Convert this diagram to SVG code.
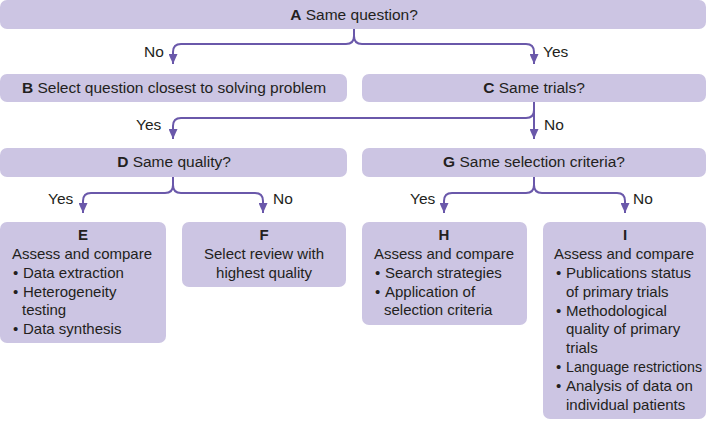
<svg xmlns="http://www.w3.org/2000/svg" width="708" height="421" viewBox="0 0 708 421">
<defs>
<marker id="arr" markerWidth="10" markerHeight="9" refX="10" refY="4.5" orient="auto" markerUnits="userSpaceOnUse">
<path d="M0,0 L10,4.5 L0,9 Z" fill="#6a58aa"/>
</marker>
<style>
.box{fill:#ccc5e3;}
text{font-family:"Liberation Sans",Arial,sans-serif;font-size:15px;fill:#231f20;}
.h{font-size:15.5px;}
.c{text-anchor:middle;}
.b{font-weight:bold;}
.lbl text{font-size:15.5px;}
.conn path{fill:none;stroke:#6a58aa;stroke-width:2;}
.conn path.a{marker-end:url(#arr);}
</style>
</defs>
<g class="conn" id="connectors">
<path d="M354,29 V36 Q354,44 346,44 H181 Q173,44 173,52 V64" class="a"/>
<path d="M354,36 Q354,44 362,44 H526 Q534,44 534,52 V64" class="a"/>
<path d="M534,102 V139" class="a"/>
<path d="M534,110 Q534,118 526,118 H181 Q173,118 173,126 V139" class="a"/>
<path d="M173,177 V185 Q173,193 165,193 H91 Q83,193 83,201 V213" class="a"/>
<path d="M173,185 Q173,193 181,193 H255 Q263,193 263,201 V213" class="a"/>
<path d="M534,177 V185 Q534,193 526,193 H452 Q444,193 444,201 V213" class="a"/>
<path d="M534,185 Q534,193 542,193 H617 Q625,193 625,201 V213" class="a"/>
</g>
<g id="labels" class="lbl">
<text x="144" y="57">No</text>
<text x="543" y="57">Yes</text>
<text x="136" y="130">Yes</text>
<text x="544" y="130">No</text>
<text x="48" y="204">Yes</text>
<text x="273" y="204">No</text>
<text x="410" y="204">Yes</text>
<text x="633" y="204">No</text>
</g>
<g id="A"><rect class="box" x="0" y="0" width="706" height="29" rx="7"/><text class="c h" x="354" y="20"><tspan class="b">A</tspan> Same question?</text></g>
<g id="B"><rect class="box" x="0" y="74" width="347" height="28" rx="7"/><text class="c h" x="174" y="93"><tspan class="b">B</tspan> Select question closest to solving problem</text></g>
<g id="C"><rect class="box" x="362" y="74" width="344" height="28" rx="7"/><text class="c h" x="534" y="93"><tspan class="b">C</tspan> Same trials?</text></g>
<g id="D"><rect class="box" x="0" y="148" width="347" height="29" rx="7"/><text class="c h" x="174" y="167"><tspan class="b">D</tspan> Same quality?</text></g>
<g id="G"><rect class="box" x="362" y="148" width="344" height="29" rx="7"/><text class="c h" x="534" y="167"><tspan class="b">G</tspan> Same selection criteria?</text></g>
<g id="E"><rect class="box" x="0" y="222" width="166" height="121" rx="7"/>
<text class="c b" x="83" y="240">E</text>
<text class="c" x="82" y="259">Assess and compare</text>
<text x="13" y="278">•</text><text x="23" y="278">Data extraction</text>
<text x="13" y="297">•</text><text x="23" y="297">Heterogeneity</text>
<text x="22" y="315">testing</text>
<text x="13" y="334">•</text><text x="23" y="334">Data synthesis</text>
</g>
<g id="F"><rect class="box" x="182" y="222" width="164" height="65" rx="7"/>
<text class="c b" x="264" y="240">F</text>
<text class="c" x="264" y="259">Select review with</text>
<text class="c" x="264" y="278">highest quality</text>
</g>
<g id="H"><rect class="box" x="362" y="222" width="165" height="103" rx="7"/>
<text class="c b" x="444" y="240">H</text>
<text class="c" x="444" y="259">Assess and compare</text>
<text x="375" y="278">•</text><text x="385" y="278">Search strategies</text>
<text x="375" y="297">•</text><text x="385" y="297">Application of</text>
<text x="384" y="315">selection criteria</text>
</g>
<g id="I"><rect class="box" x="543" y="222" width="163" height="197" rx="7"/>
<text class="c b" x="625" y="240">I</text>
<text class="c" x="624" y="259">Assess and compare</text>
<text x="556" y="278">•</text><text x="566" y="278">Publications status</text>
<text x="566" y="297">of primary trials</text>
<text x="556" y="316">•</text><text x="566" y="316">Methodological</text>
<text x="566" y="334">quality of primary</text>
<text x="566" y="353">trials</text>
<text x="556" y="372">•</text><text x="566" y="372" textLength="136" lengthAdjust="spacingAndGlyphs">Language restrictions</text>
<text x="556" y="391">•</text><text x="566" y="391">Analysis of data on</text>
<text x="566" y="410">individual patients</text>
</g>
</svg>
